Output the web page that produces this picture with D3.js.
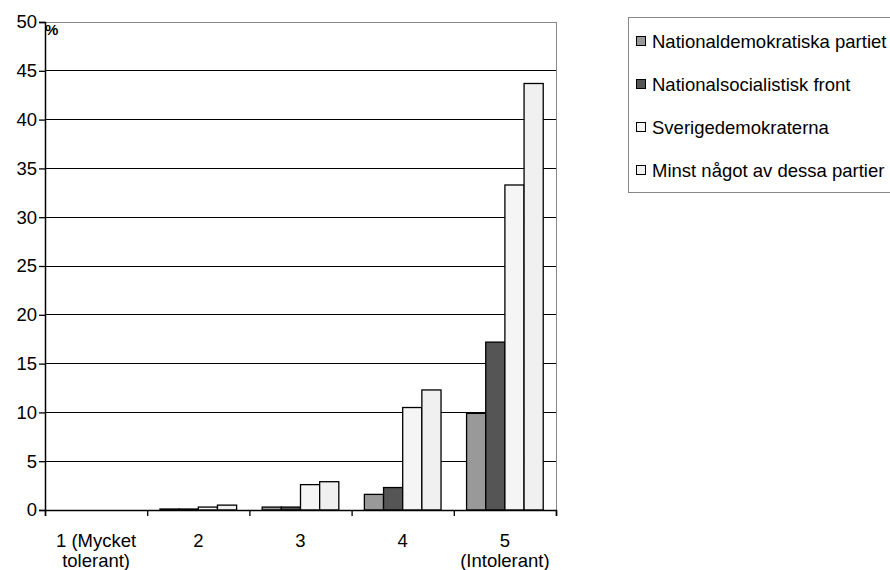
<!DOCTYPE html>
<html><head><meta charset="utf-8">
<script src="https://d3js.org/d3.v7.min.js"></script>
<style>body{margin:0;background:#fff}svg{display:block}text{font-family:"Liberation Sans",Arial,sans-serif}</style>
</head><body>
<script>
const categories = [["1 (Mycket","tolerant)"],["2"],["3"],["4"],["5","(Intolerant)"]];
const seriesNames = ["Nationaldemokratiska partiet","Nationalsocialistisk front","Sverigedemokraterna","Minst något av dessa partier"];
const seriesColors = ["#999999","#555555","#f5f5f5","#f0f0f0"];
const ndp = [0, 0.1, 0.3, 1.6, 9.9];
const nsf = [0, 0.1, 0.3, 2.3, 17.2];
const sd  = [0, 0.3, 2.6, 10.5, 33.3];
const any = [0, 0.5, 2.9, 12.3, 43.7];
const yTicks = [0,5,10,15,20,25,30,35,40,45,50];
const series = [ndp, nsf, sd, any];

const W=890,H=570,FS=18.5;
const svg=d3.select("body").append("svg").attr("width",W).attr("height",H);
const L=45,R=556,T=22,B=510;
const x=d3.scaleBand().domain(d3.range(categories.length)).range([L,R]).paddingInner(0.25).paddingOuter(0.125);
const xi=d3.scaleBand().domain(d3.range(series.length)).range([0,x.bandwidth()]);
const y=d3.scaleLinear().domain([0,50]).range([B,T]);

svg.append("g").selectAll("line").data(yTicks.filter(d=>d>0&&d<50)).join("line")
  .attr("x1",L).attr("x2",R).attr("y1",d=>y(d)).attr("y2",d=>y(d)).attr("stroke","#000").attr("stroke-width",1).attr("shape-rendering","crispEdges");
svg.append("line").attr("x1",L).attr("x2",R).attr("y1",y(50)).attr("y2",y(50)).attr("stroke","#888").attr("shape-rendering","crispEdges");
svg.append("line").attr("x1",R).attr("x2",R).attr("y1",y(50)).attr("y2",B).attr("stroke","#888").attr("shape-rendering","crispEdges");

series.forEach((s,si)=>{
  svg.append("g").selectAll("rect").data(s).join("rect")
    .attr("x",(d,i)=>x(i)+xi(si)).attr("width",xi.bandwidth())
    .attr("y",d=>y(d)).attr("height",d=>B-y(d))
    .attr("fill",seriesColors[si]).attr("stroke","#000").attr("stroke-width",1.3);
});

const ya=svg.append("g").attr("transform",`translate(${L},0)`).call(d3.axisLeft(y).tickValues(yTicks).tickSize(6).tickPadding(2));
ya.select(".domain").attr("stroke","#000").attr("stroke-width",1.5);
ya.selectAll("line").attr("stroke","#000").attr("stroke-width",1.3);
ya.selectAll("text").attr("font-size",FS).attr("fill","#000").attr("font-family","Liberation Sans, Arial, sans-serif");

const xs=d3.scaleLinear().domain([0,categories.length]).range([L,R]);
const xa=svg.append("g").attr("transform",`translate(0,${B})`).call(d3.axisBottom(xs).tickValues(d3.range(categories.length+1)).tickSize(6).tickFormat(""));
xa.select(".domain").attr("stroke","#000").attr("stroke-width",1.5);
xa.selectAll("line").attr("stroke","#000").attr("stroke-width",1.3);
const lab=svg.append("g").selectAll("text").data(categories).join("text")
  .attr("x",(d,i)=>x(i)+x.bandwidth()/2).attr("y",547).attr("text-anchor","middle").attr("font-size",FS).attr("fill","#000");
lab.selectAll("tspan").data(d=>d).join("tspan").attr("x",function(){return this.parentNode.getAttribute("x");}).attr("dy",(d,i)=>i?20:0).text(d=>d);

svg.append("text").attr("x",45).attr("y",35).attr("font-size",15).attr("font-weight","bold").text("%");

svg.append("rect").attr("x",628.5).attr("y",17.5).attr("width",300).attr("height",175).attr("fill","#fff").attr("stroke","#888");
const lg=svg.append("g").selectAll("g").data(seriesNames).join("g").attr("transform",(d,i)=>`translate(636,${41+i*43})`);
lg.append("rect").attr("x",0.5).attr("y",-4.5).attr("width",9).attr("height",9).attr("fill",(d,i)=>seriesColors[i]).attr("stroke","#000");
lg.append("text").attr("x",16).attr("y",6.5).attr("font-size",FS).attr("fill","#000").text(d=>d);
</script>
</body></html>
